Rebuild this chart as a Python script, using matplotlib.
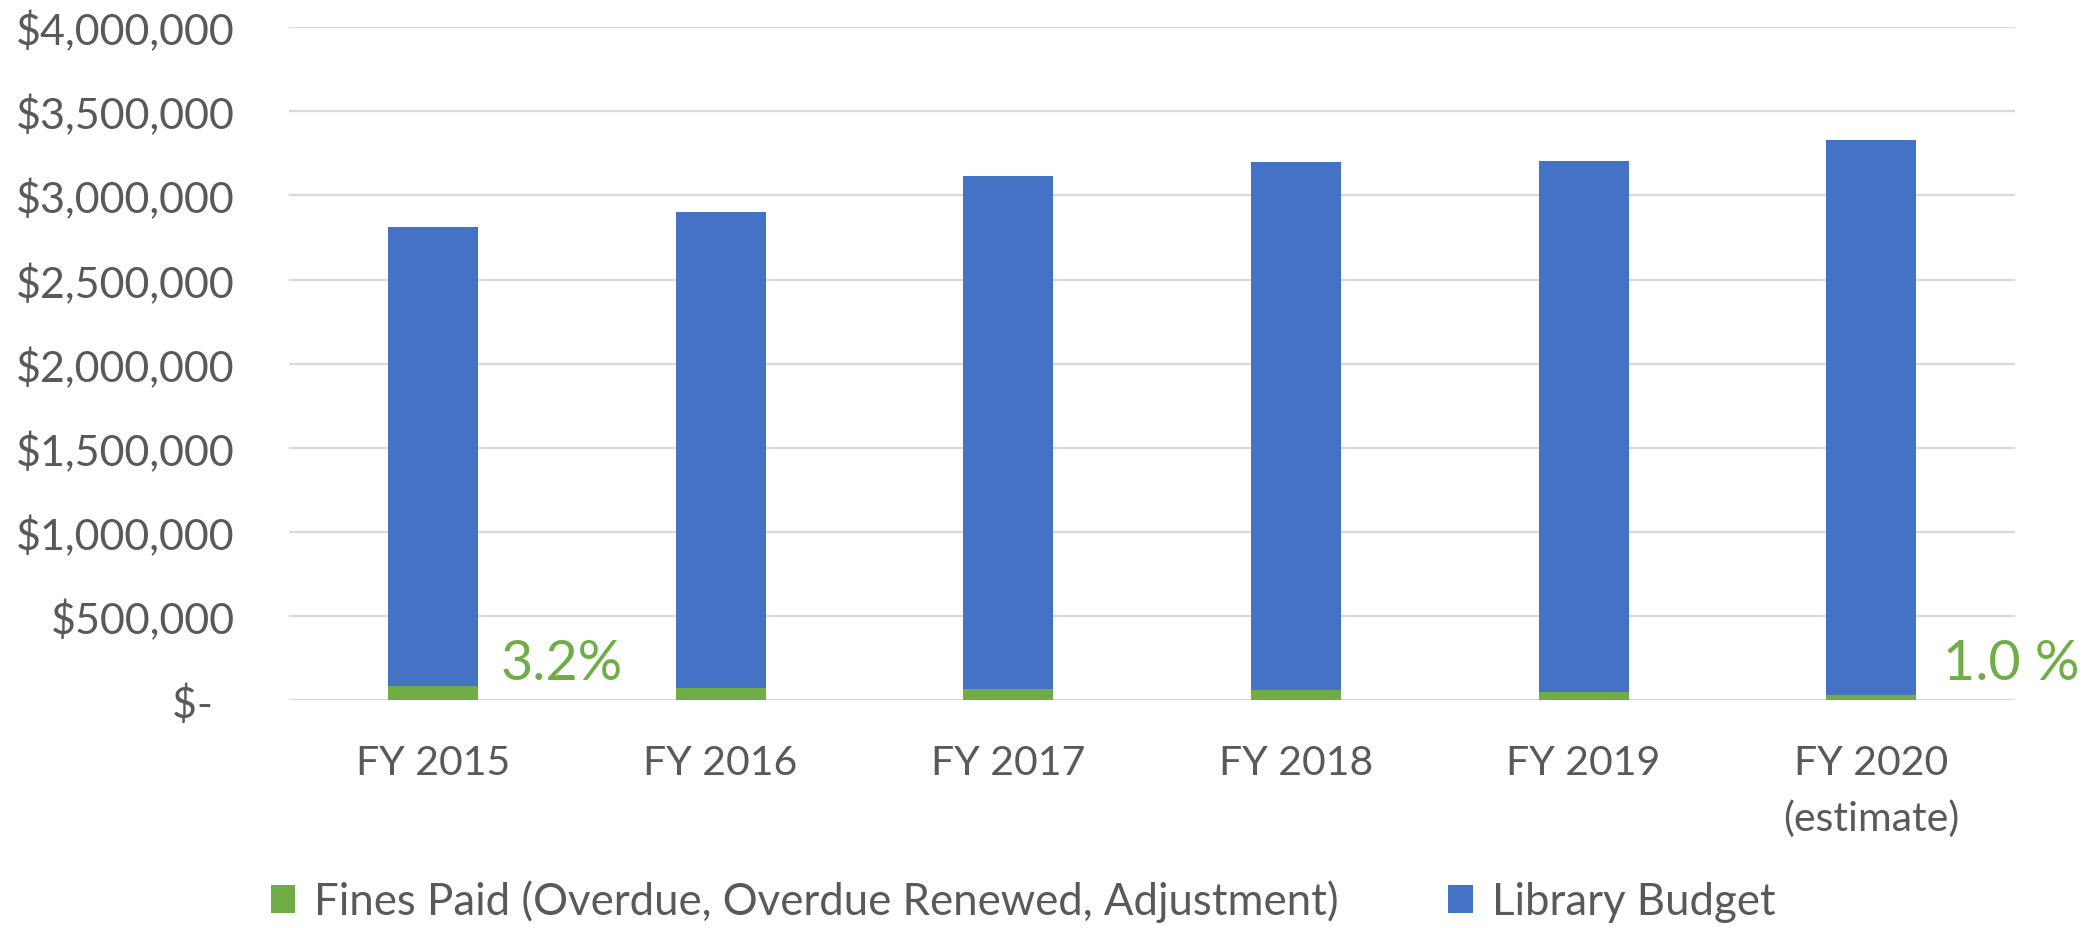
import matplotlib
matplotlib.use("Agg")
import matplotlib.pyplot as plt
from matplotlib.ticker import FuncFormatter
import numpy as np

categories = ["FY 2015", "FY 2016", "FY 2017", "FY 2018", "FY 2019", "FY 2020\n(estimate)"]
fines_paid = [88000, 76000, 69000, 63000, 51000, 32000]
library_budget = [2726000, 2825000, 3047000, 3133000, 3152000, 3299000]
y_ticks = [0, 500000, 1000000, 1500000, 2000000, 2500000, 3000000, 3500000, 4000000]
pct_labels = ["3.2%", "1.0 %"]
pct_label_idx = [0, 5]
legend_labels = ["Fines Paid (Overdue, Overdue Renewed, Adjustment)", "Library Budget"]

GREEN = "#70AD47"
BLUE = "#4472C4"
GRAY_TXT = "#595959"
GRID = "#d9d9d9"

plt.rcParams['font.family'] = ['Lato', 'DejaVu Sans']

fig = plt.figure(figsize=(20.99, 9.29), dpi=100)
ax = fig.add_axes([0.1377, 0.2449, 0.960 - 0.1377, 0.9698 - 0.2449])

x = np.arange(len(categories))
w = 0.313
b1 = ax.bar(x, fines_paid, width=w, color=GREEN, label=legend_labels[0], zorder=3)
b2 = ax.bar(x, library_budget, width=w, bottom=fines_paid, color=BLUE, label=legend_labels[1], zorder=3)

ax.set_xlim(-0.5, len(categories) - 0.5)
ax.set_ylim(0, 4000000)
ax.set_yticks(y_ticks)

def fmt(v, pos):
    if v == 0:
        return "$-  "
    return "${:,.0f}".format(v)

ax.yaxis.set_major_formatter(FuncFormatter(fmt))
ax.set_xticks(x)
ax.set_xticklabels(categories, linespacing=1.62)

ax.tick_params(axis='y', length=0, pad=39, labelsize=31, labelcolor=GRAY_TXT)
ax.tick_params(axis='x', length=0, pad=31, labelsize=29.5, labelcolor=GRAY_TXT)

for s in ax.spines.values():
    s.set_visible(False)
ax.grid(axis='y', color=GRID, linewidth=1.6, zorder=0)
ax.set_axisbelow(True)

offsets = [0.234, 0.249]
for txt, i, off in zip(pct_labels, pct_label_idx, offsets):
    ax.text(x[i] + off, 128000, txt, color=GREEN, fontsize=40, ha='left', va='baseline', zorder=4)

leg = fig.legend([b1, b2], legend_labels, loc='center', bbox_to_anchor=(0.4875, 0.029),
                 ncol=2, frameon=False, fontsize=31.5, labelcolor=GRAY_TXT,
                 handlelength=0.55, handleheight=0.6, handletextpad=0.45, columnspacing=2.5)

fig.savefig("out.png", dpi=100)
